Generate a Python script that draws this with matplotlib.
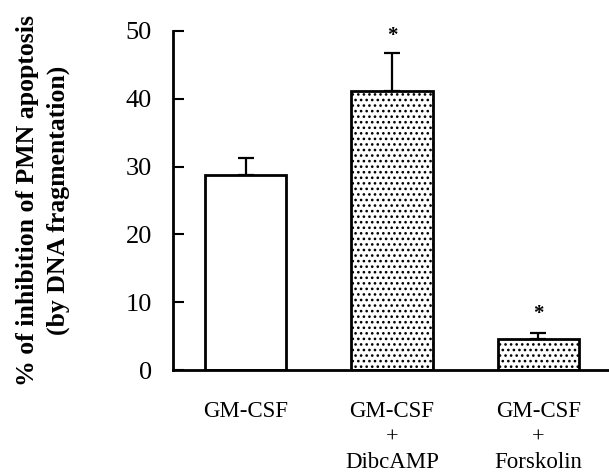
"""
Inhibition of PMN apoptosis by GM-CSF with/without cAMP agonists.
"""

import matplotlib
matplotlib.use("Agg")
import matplotlib.pyplot as plt
import matplotlib.transforms as mtransforms

plt.rcParams["font.family"] = ["Liberation Serif", "DejaVu Serif"]
plt.rcParams["hatch.linewidth"] = 1.1

groups = ["GM-CSF", "GM-CSF", "GM-CSF"]
sublabels = ["", "DibcAMP", "Forskolin"]
values = [28.8, 41.2, 4.5]
errors = [2.5, 5.6, 0.9]
significant = [False, True, True]
star_y = [0, 49.3, 8.3]
hatches = ["", "...", "..."]

FONTSIZE = 16.5

fig = plt.figure(figsize=(6.09, 4.74), dpi=100)
ax = fig.add_axes([0.284, 0.2194, 0.716, 0.7152])

x = list(range(len(values)))
for i in x:
    ax.bar(
        i,
        values[i],
        width=0.555,
        color="white",
        edgecolor="black",
        linewidth=2,
        hatch=hatches[i],
        zorder=2,
    )
    ax.errorbar(
        i,
        values[i],
        yerr=[[0], [errors[i]]],
        fmt="none",
        ecolor="black",
        elinewidth=1.6,
        capsize=6,
        capthick=1.6,
        zorder=1,
    )
    if significant[i]:
        ax.text(i, star_y[i], "*", ha="center", va="center", fontsize=15,
                fontweight="bold")

ax.set_xlim(-0.497, 2.483)
ax.set_ylim(0, 50)
ax.set_yticks([0, 10, 20, 30, 40, 50])
ax.set_xticks(x)
ax.set_xticklabels(groups, fontsize=FONTSIZE)
ax.tick_params(axis="x", length=0, pad=22)
ax.tick_params(axis="y", direction="in", length=8, width=1.5, labelsize=19, pad=15)

# second line of the group labels
trans = mtransforms.blended_transform_factory(ax.transData, ax.transAxes)
for i in x:
    if sublabels[i]:
        ax.text(i, -0.2, "+", ha="center", va="center", fontsize=16,
                transform=trans)
        ax.text(i, -0.274, sublabels[i], ha="center", va="center",
                fontsize=FONTSIZE, transform=trans)

for side in ["top", "right"]:
    ax.spines[side].set_visible(False)
ax.spines["left"].set_linewidth(2)
ax.spines["bottom"].set_linewidth(2)

ax.set_ylabel("% of inhibition of PMN apoptosis\n(by DNA fragmentation)",
              fontsize=18.5, fontweight="bold", linespacing=1.45)
ax.yaxis.set_label_coords(-0.236, 0.5)

fig.savefig("out.png", dpi=100)
